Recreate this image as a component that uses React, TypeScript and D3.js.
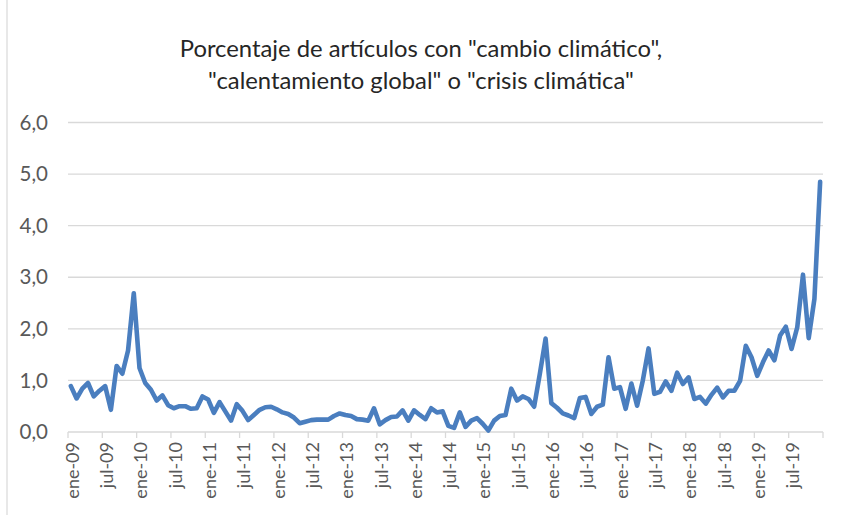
import React from "react";
import * as d3 from "d3";

const MONTHS = ["ene", "feb", "mar", "abr", "may", "jun", "jul", "ago", "sep", "oct", "nov", "dic"];
const YEARS = ["09", "10", "11", "12", "13", "14", "15", "16", "17", "18", "19"];
const categories: string[] = YEARS.flatMap((y) => MONTHS.map((m) => `${m}-${y}`));

const values: number[] = [
  0.89, 0.65, 0.84, 0.95, 0.69, 0.8, 0.89, 0.43, 1.28, 1.13, 1.58, 2.69,
  1.24, 0.95, 0.82, 0.61, 0.71, 0.52, 0.46, 0.5, 0.5, 0.45, 0.46, 0.69,
  0.63, 0.37, 0.58, 0.4, 0.22, 0.54, 0.41, 0.23, 0.33, 0.43, 0.48, 0.49,
  0.44, 0.38, 0.35, 0.28, 0.17, 0.2, 0.23, 0.24, 0.24, 0.24, 0.31, 0.36,
  0.33, 0.31, 0.25, 0.24, 0.22, 0.46, 0.15, 0.23, 0.29, 0.3, 0.42, 0.22,
  0.42, 0.33, 0.25, 0.46, 0.38, 0.4, 0.12, 0.08, 0.38, 0.1, 0.22, 0.27,
  0.16, 0.03, 0.22, 0.31, 0.33, 0.84, 0.61, 0.69, 0.64, 0.49, 1.13, 1.81,
  0.56, 0.47, 0.36, 0.32, 0.27, 0.66, 0.68, 0.35, 0.49, 0.53, 1.45, 0.84,
  0.87, 0.45, 0.94, 0.51, 1.0, 1.62, 0.74, 0.78, 0.98, 0.8, 1.15, 0.93,
  1.06, 0.64, 0.68, 0.55, 0.72, 0.86, 0.67, 0.8, 0.8, 0.99, 1.67, 1.45,
  1.09, 1.35, 1.58, 1.39, 1.87, 2.04, 1.61, 2.03, 3.05, 1.82, 2.58, 4.85,
];

const yTicks = [0, 1, 2, 3, 4, 5, 6];
const titleLines = [
  'Porcentaje de artículos con "cambio climático",',
  '"calentamiento global" o "crisis climática"',
];

const W = 841;
const H = 515;
const FONT = "Lato, 'Open Sans', sans-serif";

export default function App() {
  const x = d3
    .scaleBand<number>()
    .domain(d3.range(categories.length))
    .range([68, 823])
    .paddingInner(0)
    .paddingOuter(0);
  const y = d3.scaleLinear().domain([0, 6]).range([432, 122.5]);
  const cx = (i: number) => (x(i) as number) + x.bandwidth() / 2;

  const line = d3
    .line<number>()
    .x((_, i) => cx(i))
    .y((d) => y(d));

  const labelIdx = d3.range(0, categories.length, 6);
  const tickIdx = d3.range(0, categories.length + 1, 6);
  const boundary = (i: number) => 68 + i * x.step();

  return (
    <svg
      width={W}
      height={H}
      style={{ position: "absolute", left: 0, top: 0, background: "#fff" }}
      fontFamily={FONT}
    >
      <line x1={7} x2={7} y1={0} y2={H} stroke="#d9d9d9" strokeWidth={1.2} />
      {titleLines.map((t, k) => (
        <text
          key={k}
          x={421}
          y={57 + k * 32}
          textAnchor="middle"
          fontSize={23.8}
          fill="#262626"
        >
          {t}
        </text>
      ))}
      {yTicks.map((t) => (
        <g key={t}>
          <line
            x1={68}
            x2={823}
            y1={y(t)}
            y2={y(t)}
            stroke="#d9d9d9"
            strokeWidth={1.3}
          />
          <text
            x={48}
            y={y(t)}
            dy="0.35em"
            textAnchor="end"
            fontSize={20.5}
            fill="#595959"
          >
            {d3.format(".1f")(t).replace(".", ",")}
          </text>
        </g>
      ))}
      {tickIdx.map((i) => (
        <line
          key={i}
          x1={boundary(i)}
          x2={boundary(i)}
          y1={y(0)}
          y2={y(0) + 6}
          stroke="#d9d9d9"
          strokeWidth={1.3}
        />
      ))}
      {labelIdx.map((i) => (
        <text
          key={i}
          transform={`translate(${cx(i) + 1.5},${442}) rotate(-90)`}
          dy="0.35em"
          textAnchor="end"
          fontSize={18}
          fill="#595959"
        >
          {categories[i]}
        </text>
      ))}
      <path
        d={line(values) || ""}
        fill="none"
        stroke="#4a7ebf"
        strokeWidth={4.6}
        strokeLinejoin="round"
        strokeLinecap="round"
      />
    </svg>
  );
}
